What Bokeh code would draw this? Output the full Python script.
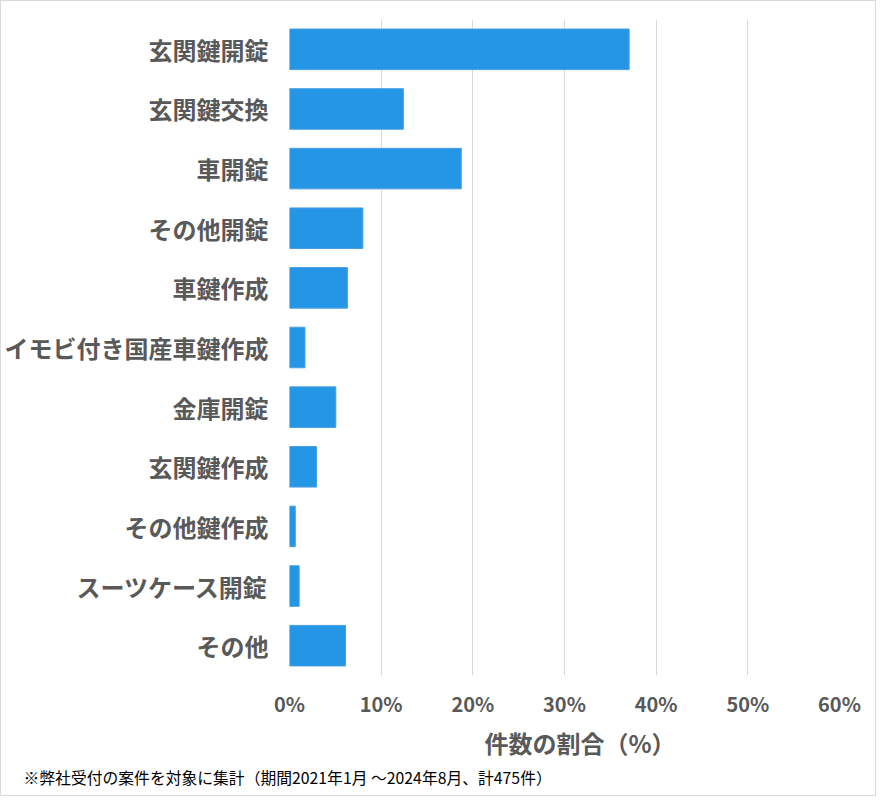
from bokeh.plotting import figure
from bokeh.models import ColumnDataSource, FactorRange, Range1d, FixedTicker, NumeralTickFormatter, Title
from bokeh.embed import file_html
from bokeh.resources import INLINE

categories = ["玄関鍵開錠", "玄関鍵交換", "車開錠", "その他開錠", "車鍵作成",
              "イモビ付き国産車鍵作成", "金庫開錠", "玄関鍵作成", "その他鍵作成",
              "スーツケース開錠", "その他"]
counts = [176, 59, 89, 38, 30, 8, 24, 14, 3, 5, 29]
total = 475
share = [c / total for c in counts]
x_ticks = [0, 0.1, 0.2, 0.3, 0.4, 0.5, 0.6]
x_title = "件数の割合（%）"
footnote = "※弊社受付の案件を対象に集計（期間2021年1月 ～2024年8月、計475件）"

FONT = "Noto Sans CJK JP"
GREY = "#595959"

src = ColumnDataSource(dict(cat=categories, share=share))

p = figure(width=876, height=796, output_backend="svg", toolbar_location=None,
           y_range=FactorRange(*list(reversed(categories))),
           x_range=Range1d(0, 0.6),
           min_border_left=288, min_border_right=38, min_border_top=18, min_border_bottom=122)
p.styles = {"border": "1px solid #d9d9d9", "box-sizing": "border-box"}

p.hbar(y="cat", right="share", left=0, height=0.68, source=src,
       fill_color="#2595E6", line_color="#4A9EE0", line_width=1)

p.outline_line_color = None
p.background_fill_color = "white"
p.border_fill_color = "white"

p.ygrid.grid_line_color = None
p.xgrid.grid_line_color = "#d9d9d9"
p.xgrid.grid_line_width = 1

p.xaxis.ticker = FixedTicker(ticks=x_ticks)
p.xaxis.formatter = NumeralTickFormatter(format="0%")
for ax in (p.xaxis[0], p.yaxis[0]):
    ax.axis_line_color = None
    ax.major_tick_line_color = None
    ax.minor_tick_line_color = None
    ax.major_tick_out = 0
    ax.major_tick_in = 0
    ax.major_label_text_font = FONT
    ax.major_label_text_font_style = "bold"
    ax.major_label_text_color = GREY

p.xaxis.major_label_text_font_size = "20px"
p.xaxis.major_label_standoff = 13

p.yaxis.major_label_text_font_size = "24px"
p.yaxis.major_label_standoff = 21

axis_title = Title(text=x_title, align="left", offset=195, standoff=4,
                   text_font=FONT, text_font_size="24px", text_font_style="bold",
                   text_color=GREY)
p.add_layout(axis_title, "below")

note = Title(text=footnote, align="left", offset=-266, standoff=4,
             text_font=FONT, text_font_size="15.8px", text_font_style="normal",
             text_color="#000000")
p.add_layout(note, "below")

open("out.html", "w").write(file_html(p, INLINE))
